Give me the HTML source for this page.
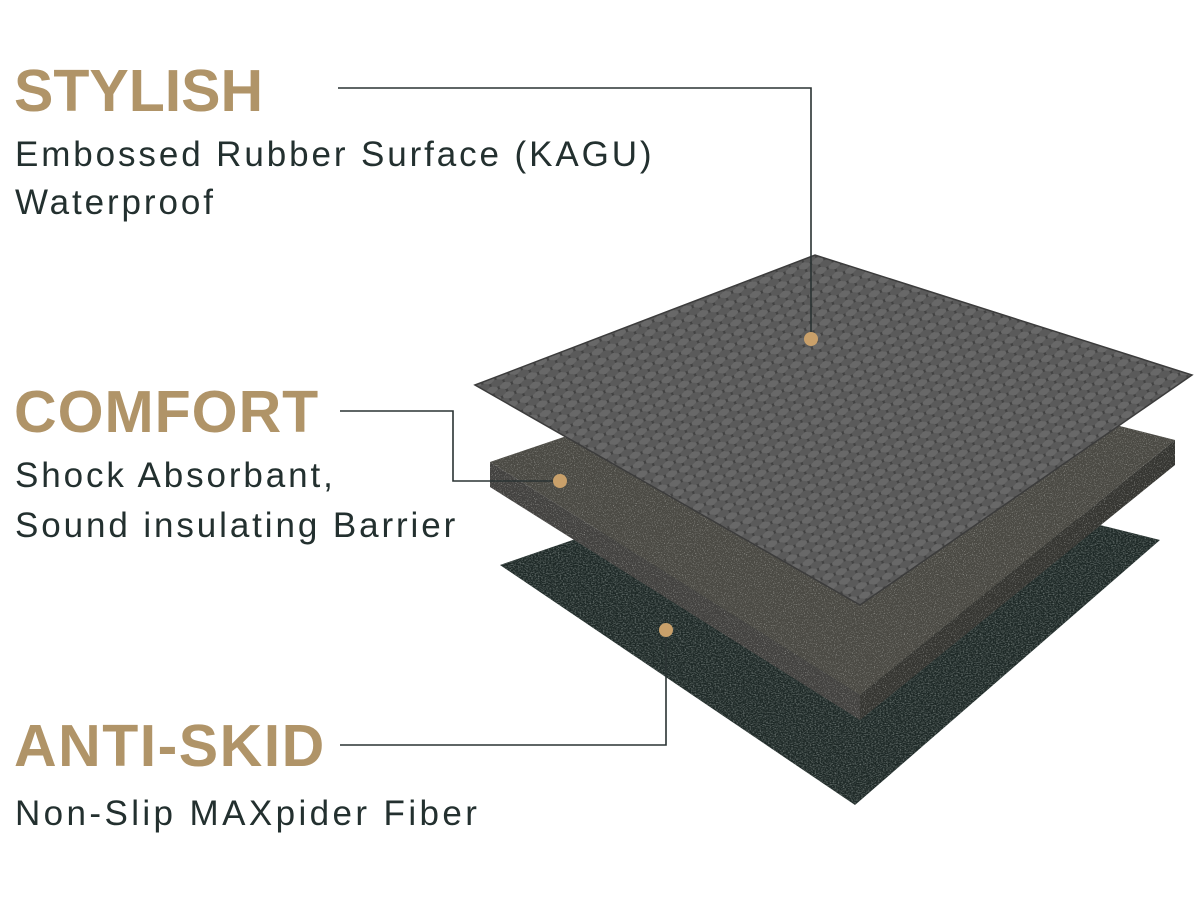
<!DOCTYPE html>
<html><head><meta charset="utf-8"><style>
html,body{margin:0;padding:0;background:#fff;}
body{width:1200px;height:900px;position:relative;overflow:hidden;font-family:"Liberation Sans",sans-serif;}
.h{position:absolute;left:14px;font-weight:bold;color:#b09468;font-size:59px;line-height:1;}
.s{position:absolute;left:15px;color:#23302f;font-size:35px;line-height:1;letter-spacing:2.9px;}
svg{position:absolute;left:0;top:0;}
</style></head><body>
<svg width="1200" height="900" viewBox="0 0 1200 900">
<defs>
<pattern id="scale" width="14" height="10" patternUnits="userSpaceOnUse" patternTransform="rotate(-20)">
<rect width="14" height="10" fill="#424242"/>
<ellipse cx="7" cy="5" rx="6" ry="3.6" fill="#686868"/>
<ellipse cx="0" cy="0" rx="6" ry="3.6" fill="#5a5a5a"/>
<ellipse cx="14" cy="0" rx="6" ry="3.6" fill="#5a5a5a"/>
<ellipse cx="0" cy="10" rx="6" ry="3.6" fill="#5a5a5a"/>
<ellipse cx="14" cy="10" rx="6" ry="3.6" fill="#5a5a5a"/>
</pattern>
<filter id="felt" x="0" y="0" width="100%" height="100%">
<feTurbulence type="fractalNoise" baseFrequency="0.9" numOctaves="2" seed="3"/>
<feColorMatrix type="matrix" values="0 0 0 0 0.6  0 0 0 0 0.6  0 0 0 0 0.57  0 0 0 2 -1.1"/>
<feComposite in2="SourceGraphic" operator="in"/>
</filter>
<filter id="fib" x="0" y="0" width="100%" height="100%">
<feTurbulence type="fractalNoise" baseFrequency="0.6 0.9" numOctaves="2" seed="7"/>
<feColorMatrix type="matrix" values="0 0 0 0 0.4  0 0 0 0 0.45  0 0 0 0 0.43  0 0 0 1.3 -0.55"/>
<feComposite in2="SourceGraphic" operator="in"/>
</filter>
</defs>
<polygon points="500,565 820,455 1160,540 855,805" fill="#1d2826"/>
<polygon points="500,565 820,455 1160,540 855,805" fill="#1d2826" filter="url(#fib)"/>
<polygon points="490,462 820,350 1175,440 860,695" fill="#4b4a44"/>
<polygon points="490,462 860,695 860,720 490,487" fill="#434240"/>
<polygon points="860,695 1175,440 1175,465 860,720" fill="#363632"/>
<polygon points="490,462 820,350 1175,440 1175,465 860,720 490,487" fill="#555" filter="url(#felt)"/>
<polygon points="475,385 815,255 1192,375 860,605" fill="url(#scale)"/>
<polygon points="475,385 815,255 1192,375 860,605" fill="none" stroke="#3c3c3c" stroke-width="1.5"/>
<g stroke="#2a3333" stroke-width="1.6" fill="none">
<polyline points="338,88 811,88 811,338"/>
<polyline points="340,411 453,411 453,481 560,481"/>
<polyline points="340,745 666,745 666,630"/>
</g>
<g fill="#c9a06a">
<circle cx="811" cy="339" r="7"/>
<circle cx="560" cy="481" r="7"/>
<circle cx="666" cy="630" r="7"/>
</g>
</svg>
<div class="h" style="top:62px">STYLISH</div>
<div class="s" style="top:137px">Embossed Rubber Surface (KAGU)</div>
<div class="s" style="top:185px">Waterproof</div>
<div class="h" style="top:383px;letter-spacing:1px">COMFORT</div>
<div class="s" style="top:458px">Shock Absorbant,</div>
<div class="s" style="top:508px">Sound insulating Barrier</div>
<div class="h" style="top:717px;letter-spacing:1.5px">ANTI-SKID</div>
<div class="s" style="top:796px;letter-spacing:3.4px">Non-Slip MAXpider Fiber</div>
</body></html>
